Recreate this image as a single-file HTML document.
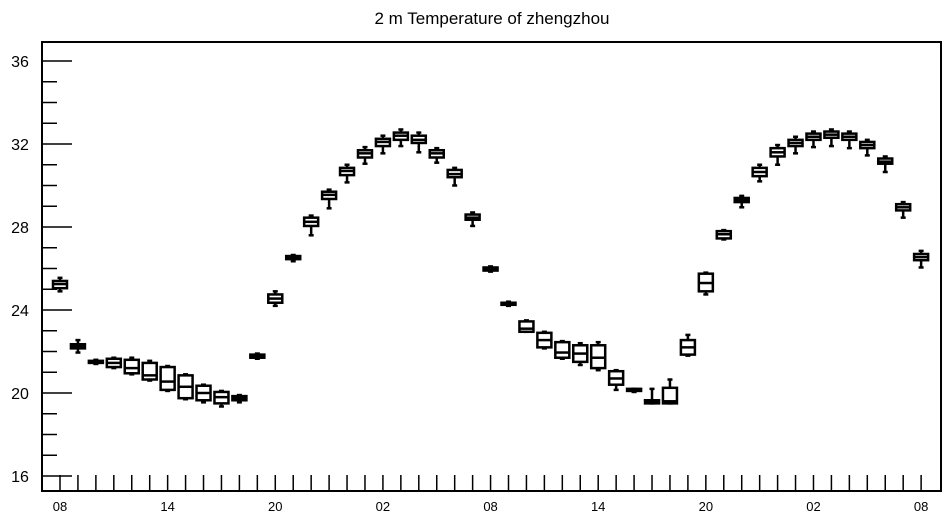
<!DOCTYPE html>
<html><head><meta charset="utf-8"><style>
html,body{margin:0;padding:0;background:#fff;}
svg{display:block;font-family:"Liberation Sans",Arial,sans-serif;}
</style></head><body>
<svg id="chart" width="947" height="520" viewBox="0 0 947 520" xmlns="http://www.w3.org/2000/svg">
<text x="492" y="24" text-anchor="middle" font-size="17">2 m Temperature of zhengzhou</text>
<rect x="42" y="42" width="899" height="449" fill="none" stroke="#000" stroke-width="2"/>
<g id="axes"></g>
<g id="marks"></g>
</svg>
<script>
const hourLabels = ["08","14","20","02","08","14","20","02","08"];
const yTicks = [16,20,24,28,32,36];
const mins = [24.9,21.95,21.4,21.2,20.9,20.6,20.1,19.7,19.55,19.35,19.55,21.65,24.2,26.35,27.6,28.9,30.15,31.05,31.55,31.9,31.6,31.1,30.0,28.05,25.85,24.2,22.95,22.15,21.65,21.35,21.1,20.15,20.05,19.5,19.5,21.8,24.75,27.4,28.95,30.2,31.0,31.55,31.85,31.9,31.8,31.45,30.65,28.45,26.05];
const q1s = [25.05,22.15,21.45,21.25,20.95,20.65,20.15,19.75,19.65,19.5,19.65,21.7,24.35,26.45,28.05,29.35,30.5,31.35,31.9,32.2,32.05,31.35,30.4,28.35,25.9,24.25,22.95,22.2,21.7,21.5,21.2,20.4,20.1,19.5,19.5,21.85,24.9,27.45,29.2,30.45,31.4,31.9,32.2,32.3,32.2,31.8,31.05,28.8,26.4];
const medians = [25.25,22.25,21.5,21.45,21.2,20.85,20.55,20.3,20.0,19.8,19.75,21.75,24.55,26.55,28.25,29.55,30.7,31.55,32.1,32.4,32.2,31.55,30.55,28.45,25.95,24.3,23.1,22.55,21.95,21.9,21.7,20.7,20.15,19.55,19.6,22.2,25.3,27.65,29.3,30.65,31.6,32.05,32.35,32.45,32.35,31.95,31.15,28.95,26.55];
const q3s = [25.4,22.35,21.55,21.65,21.6,21.45,21.25,20.85,20.35,20.05,19.85,21.85,24.75,26.6,28.45,29.7,30.85,31.7,32.25,32.55,32.4,31.7,30.75,28.6,26.05,24.35,23.45,22.9,22.45,22.3,22.3,21.05,20.2,19.65,20.25,22.55,25.75,27.8,29.4,30.85,31.8,32.2,32.5,32.6,32.5,32.1,31.3,29.1,26.7];
const maxs = [25.55,22.55,21.6,21.7,21.7,21.55,21.3,20.9,20.4,20.1,19.9,21.9,24.9,26.65,28.55,29.8,31.0,31.85,32.4,32.7,32.55,31.8,30.85,28.7,26.1,24.4,23.5,22.95,22.5,22.4,22.45,21.1,20.2,20.2,20.65,22.8,25.8,27.85,29.5,31.0,31.95,32.35,32.6,32.7,32.6,32.2,31.4,29.2,26.85];

const NS="http://www.w3.org/2000/svg";
const X0=60, DX=17.94, Y36=61, PPU=20.75, BOTTOM=491, LEFT=42;
const xScale=i=>X0+DX*i;
const yScale=v=>Y36+(36-v)*PPU;
function mk(tag,attrs,parent){const e=document.createElementNS(NS,tag);for(const k in attrs)e.setAttribute(k,attrs[k]);parent.appendChild(e);return e;}
const axes=document.getElementById('axes'), marks=document.getElementById('marks');
// y ticks
for(let v=16; v<=36; v++){
  const y=yScale(v); const major=yTicks.includes(v);
  const t=mk('line',{x1:LEFT,x2:LEFT+(major?30:15),y1:y,y2:y,stroke:'#000','stroke-width':1.5},axes);
  
  
}
yTicks.forEach(v=>{
  const t=mk('text',{x:20,y:yScale(v)+6,'text-anchor':'middle','font-size':16},axes);
  t.textContent=v;
  
  
});
// x ticks
for(let i=0;i<mins.length;i++){
  const x=xScale(i);
  const t=mk('line',{x1:x,x2:x,y1:BOTTOM,y2:BOTTOM-16,stroke:'#000','stroke-width':1.5},axes);
  
  
}
hourLabels.forEach((lab,k)=>{
  const t=mk('text',{x:xScale(k*6),y:511,'text-anchor':'middle','font-size':13},axes);
  t.textContent=lab;
  
  
});
// boxes
for(let i=0;i<mins.length;i++){
  const x=xScale(i), w=14;
  const g=mk('g',{},marks);
  
  
  const st={stroke:'#000','stroke-width':2.5,fill:'none'};
  mk('line',Object.assign({x1:x,x2:x,y1:yScale(maxs[i]),y2:yScale(q3s[i])},st),g);
  mk('line',Object.assign({x1:x,x2:x,y1:yScale(q1s[i]),y2:yScale(mins[i])},st),g);
  mk('line',Object.assign({x1:x-2.5,x2:x+2.5,y1:yScale(maxs[i]),y2:yScale(maxs[i])},st),g);
  mk('line',Object.assign({x1:x-2.5,x2:x+2.5,y1:yScale(mins[i]),y2:yScale(mins[i])},st),g);
  const yt=yScale(q3s[i]), yb=yScale(q1s[i]);
  mk('rect',{x:x-w/2,y:yt,width:w,height:Math.max(yb-yt,0.5),fill:'#fff',stroke:'#000','stroke-width':2.5},g);
  mk('line',Object.assign({x1:x-w/2,x2:x+w/2,y1:yScale(medians[i]),y2:yScale(medians[i])},st),g);
}
</script>
</body></html>
